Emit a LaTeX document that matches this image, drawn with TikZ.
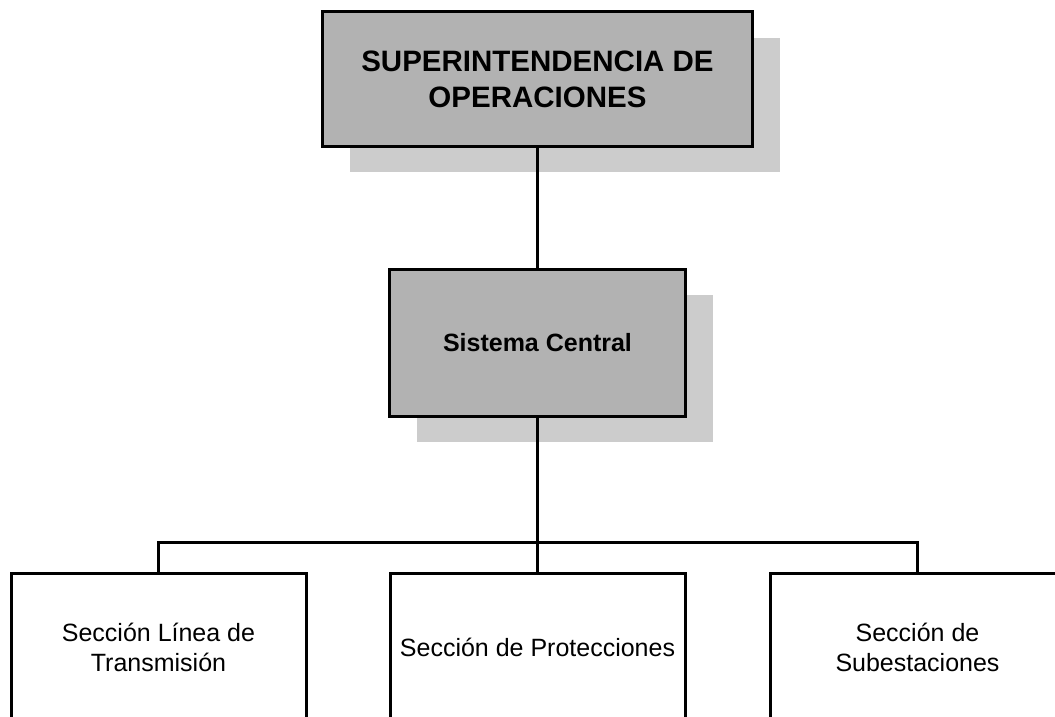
\documentclass[tikz,border=0pt]{standalone}
\usepackage{fontspec}
\setmainfont{Liberation Sans}
\usetikzlibrary{shadows}
\definecolor{cajagris}{RGB}{178,178,178}
\definecolor{sombragris}{RGB}{204,204,204}
\tikzset{
  jefatura/.style={draw=black, line width=3pt, fill=cajagris, align=center,
    drop shadow={shadow xshift=27pt, shadow yshift=-26pt, fill=sombragris, opacity=1}},
  seccion/.style={draw=black, line width=3pt, fill=white, align=center,
    minimum width=295pt, minimum height=149pt},
  conn/.style={line width=3pt}
}

\begin{document}
\begin{tikzpicture}[x=1pt, y=-1pt]
	\useasboundingbox (0, 0) rectangle (1055, 717);
	%\draw [-] (0, 0) rectangle (1055, 717);
	\node[jefatura, minimum width=430pt, minimum height=134pt, font=\fontsize{29.5}{36}\selectfont\bfseries] (super) at (537.5, 79) {SUPERINTENDENCIA DE\\OPERACIONES};
	\node[jefatura, minimum width=296pt, minimum height=147pt, font=\fontsize{25}{30}\selectfont\bfseries] (central) at (537.5, 342.5) {Sistema Central};
	
	\node[seccion, font=\fontsize{25}{30}\selectfont] (lineas) at (158.5, 647.5) {Sección Línea de\\Transmisión};
	\node[seccion, font=\fontsize{25}{30}\selectfont] (protec) at (537.5, 647.5) {Sección de Protecciones};
	\node[seccion, font=\fontsize{25}{30}\selectfont] (subest) at (917.5, 647.5) {Sección de\\Subestaciones};
	
	\coordinate (barra) at (537.5, 542);
	\draw [conn] (super.south) -- (central.north);
	\draw [conn] (central.south) -- (protec.north);
	\draw [conn] (lineas.north) |- (barra) -| (subest.north);
\end{tikzpicture}
\end{document}
